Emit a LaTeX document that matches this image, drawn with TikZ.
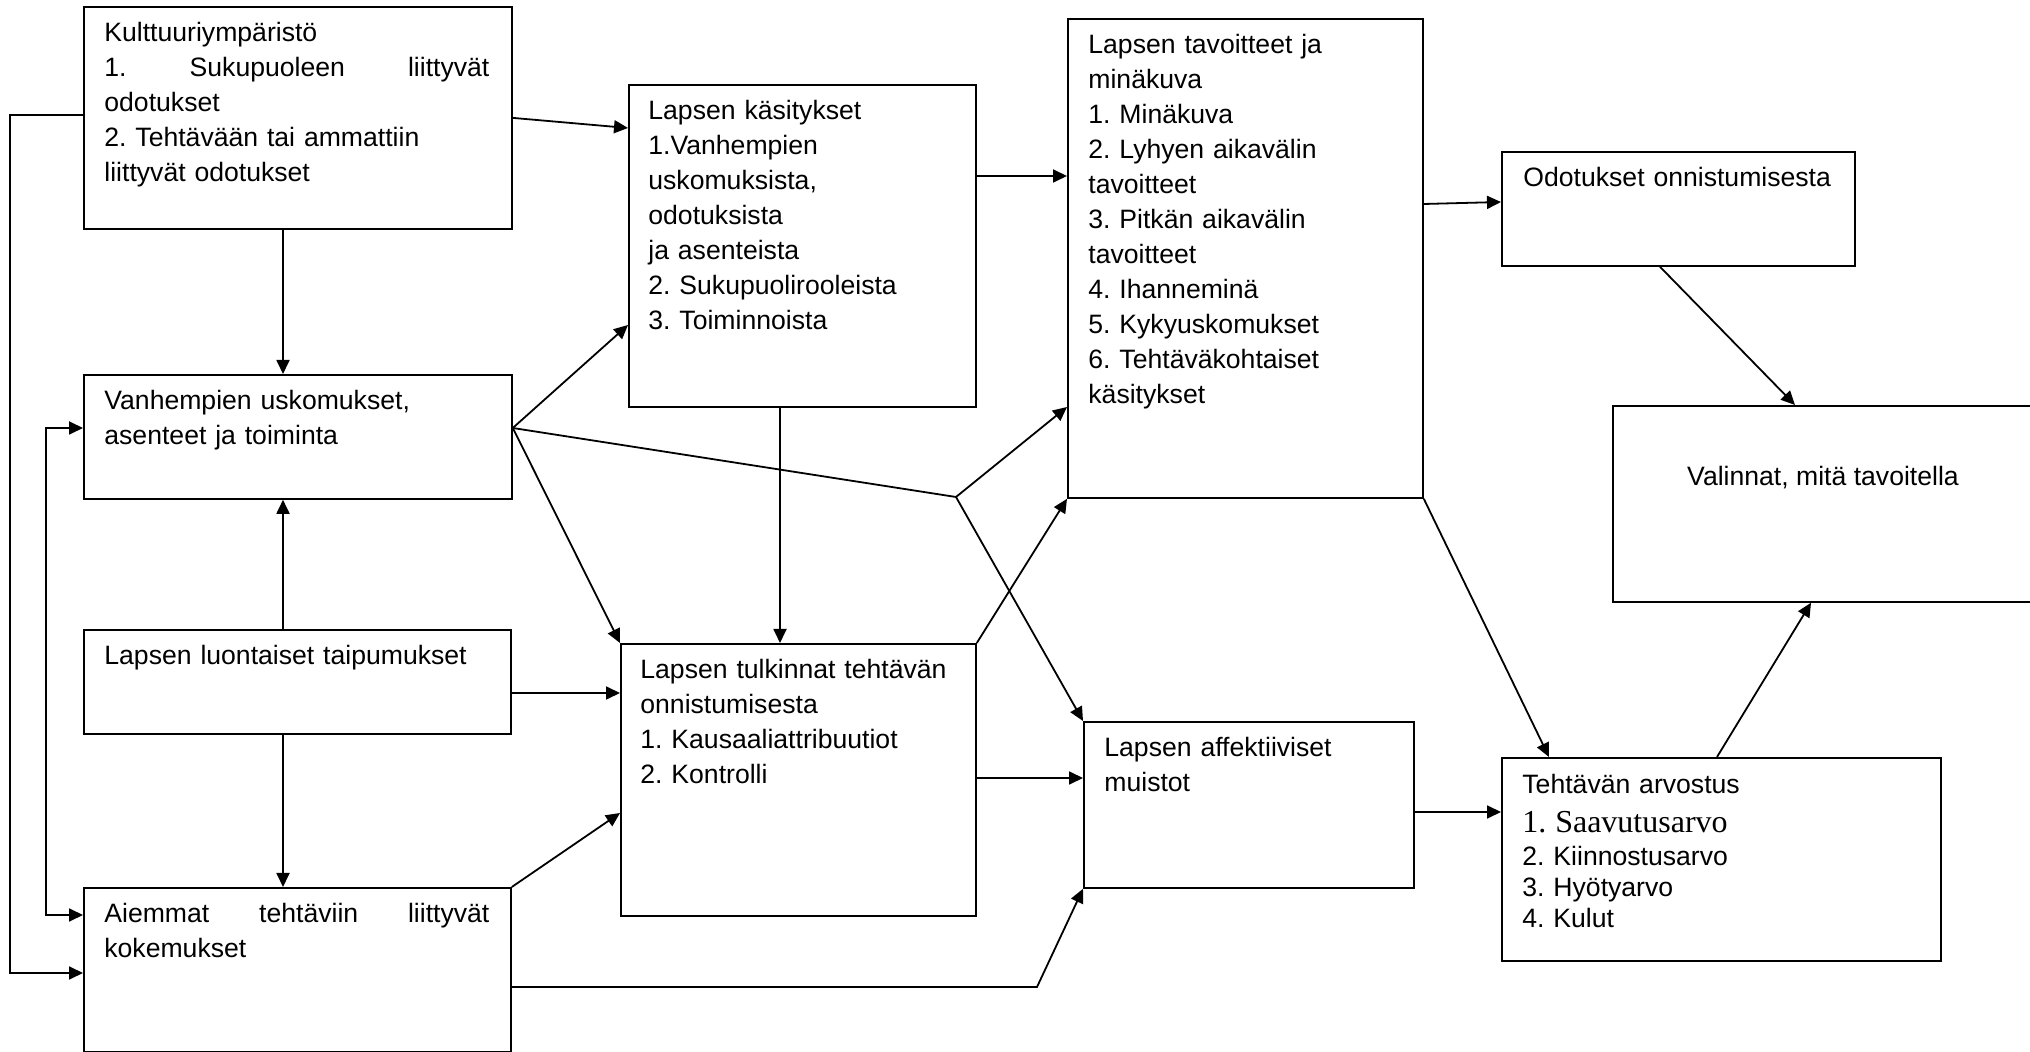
\documentclass[tikz,border=0pt]{standalone}
\usepackage{fontspec}
\setmainfont{Liberation Sans}
\newfontfamily\serifnum{Liberation Serif}
\usetikzlibrary{arrows.meta}
\usetikzlibrary{calc}
\frenchspacing
\tikzset{
    boxnode/.style={
        draw,
        rectangle,
        anchor=north west,
        line width=0.9pt,
        inner sep=0pt
    },
    boxtext/.style={
        anchor=north west,
        inner sep=0pt,
        align=left,
        font=\fontsize{13.3}{17.5}\selectfont
    },
    link/.style={
        draw,
        line width=0.9pt,
        -{Triangle[length=7pt, width=6.5pt]}
    }
}
\newcommand{\firstln}{\rule{0pt}{12.25pt}}
\newcommand{\spreadln}[1]{\leavevmode\hbox to 192.5pt{#1}}

\begin{document}
\begin{tikzpicture}[x=0.5pt, y=-0.5pt]
    \useasboundingbox (0,0) rectangle (2030,1052);
    % Boxes
    \node[boxnode, minimum width=214pt, minimum height=111pt] (kult) at (83,6) {};
    \node[boxnode, minimum width=214pt, minimum height=62pt] (vanh) at (83,374) {};
    \node[boxnode, minimum width=213.5pt, minimum height=52pt] (luon) at (83,629) {};
    \node[boxnode, minimum width=213.5pt, minimum height=82pt] (aiem) at (83,887) {};
    \node[boxnode, minimum width=173.5pt, minimum height=161pt] (kasi) at (628,84) {};
    \node[boxnode, minimum width=177.5pt, minimum height=136pt] (tulk) at (620,643) {};
    \node[boxnode, minimum width=177.5pt, minimum height=239.5pt] (tavo) at (1067,18) {};
    \node[boxnode, minimum width=176.5pt, minimum height=57pt] (odot) at (1501,151) {};
    \node[boxnode, minimum width=211pt, minimum height=98pt] (vali) at (1612,405) {};
    \node[boxnode, minimum width=165pt, minimum height=83pt] (affe) at (1083,721) {};
    \node[boxnode, minimum width=219.5pt, minimum height=101.5pt] (arvo) at (1501,757) {};

    % Texts
    \node[boxtext, text width=195pt] (kultT) at ($(kult.north west)+(21,10.5)$)
        {\firstln Kulttuuriympäristö\\ \spreadln{1.\hfill Sukupuoleen\hfill liittyvät}\\ odotukset\\
         2. Tehtävään tai ammattiin\\ liittyvät odotukset};
    \node[boxtext, text width=195pt] (vanhT) at ($(vanh.north west)+(21,10.5)$)
        {\firstln Vanhempien uskomukset,\\ asenteet ja toiminta};
    \node[boxtext, text width=195pt] (luonT) at ($(luon.north west)+(21,10.5)$)
        {\firstln Lapsen luontaiset taipumukset};
    \node[boxtext, text width=195pt] (aiemT) at ($(aiem.north west)+(21,10.5)$)
        {\firstln\spreadln{Aiemmat\hfill tehtäviin\hfill liittyvät}\\ kokemukset};
    \node[boxtext, text width=160pt] (kasiT) at ($(kasi.north west)+(20,10.5)$)
        {\firstln Lapsen käsitykset\\ 1.Vanhempien\\ uskomuksista,\\ odotuksista\\ ja asenteista\\
         2. Sukupuolirooleista\\ 3. Toiminnoista};
    \node[boxtext, text width=165pt] (tulkT) at ($(tulk.north west)+(20,10.5)$)
        {\firstln Lapsen tulkinnat tehtävän\\ onnistumisesta\\ 1. Kausaaliattribuutiot\\ 2. Kontrolli};
    \node[boxtext, text width=165pt] (tavoT) at ($(tavo.north west)+(21,10.5)$)
        {\firstln Lapsen tavoitteet ja\\ minäkuva\\ 1. Minäkuva\\ 2. Lyhyen aikavälin\\ tavoitteet\\
         3. Pitkän aikavälin\\ tavoitteet\\ 4. Ihanneminä\\ 5. Kykyuskomukset\\
         6. Tehtäväkohtaiset\\ käsitykset};
    \node[boxtext, text width=170pt] (odotT) at ($(odot.north west)+(22,10.5)$)
        {\firstln Odotukset onnistumisesta};
    \node[font=\fontsize{13.3}{17.5}\selectfont, anchor=base, inner sep=0pt] (valiT) at (1823,486)
        {Valinnat, mitä tavoitella};
    \node[boxtext, text width=150pt] (affeT) at ($(affe.north west)+(21,10.5)$)
        {\firstln Lapsen affektiiviset\\ muistot};
    \node[boxtext, text width=200pt, font=\fontsize{13.3}{15.5}\selectfont] (arvoT)
        at ($(arvo.north west)+(21,12)$)
        {\firstln Tehtävän arvostus\\[4pt]
         {\serifnum\fontsize{16}{19}\selectfont 1. Saavutusarvo}\\[1pt]
         2. Kiinnostusarvo\\ 3. Hyötyarvo\\ 4. Kulut};

    % Helper points
    \coordinate (vout) at ($(vanh.north east)+(0,54)$);
    \coordinate (jn) at (956,497);
    \coordinate (bend) at (1037,987);
    \coordinate (outer) at (10,0);
    \coordinate (inner) at (46,0);

    % Connectors
    \draw[link] (kult.east) -- ($(kasi.north west)+(0,44)$);
    \draw[link] ($(kult.south west)+(200,0)$) -- ($(vanh.north west)+(200,0)$);
    \draw[link] ($(luon.north west)+(200,0)$) -- ($(vanh.south west)+(200,0)$);
    \draw[link] ($(luon.south west)+(200,0)$) -- ($(aiem.north west)+(200,0)$);
    \draw[link] (vout) -- ($(kasi.north west)+(0,241)$);
    \draw[link] (vout) -- (tulk.north west);
    \draw[line width=0.9pt] (vout) -- (jn);
    \draw[link] (jn) -- ($(tavo.north west)+(0,389)$);
    \draw[link] (jn) -- (affe.north west);
    \draw[link] ($(kasi.north east)+(0,92)$) -- ($(tavo.north west)+(0,158)$);
    \draw[link] ($(kasi.south west)+(152,0)$) -- ($(tulk.north west)+(160,0)$);
    \draw[link] ($(luon.north east)+(0,64)$) -- ($(tulk.north west)+(0,50)$);
    \draw[link] (aiem.north east) -- ($(tulk.north west)+(0,170)$);
    \draw[link] (tulk.north east) -- (tavo.south west);
    \draw[link] ($(tulk.north east)+(0,135)$) -- ($(affe.north west)+(0,57)$);
    \draw[link] ($(aiem.north east)+(0,100)$) -- (bend) -- (affe.south west);
    \draw[link] ($(tavo.north east)+(0,186)$) -- ($(odot.north west)+(0,51)$);
    \draw[link] ($(odot.south west)+(159,0)$) -- ($(vali.north west)+(183,0)$);
    \draw[link] (tavo.south east) -- ($(arvo.north west)+(48,0)$);
    \draw[link] ($(affe.north east)+(0,91)$) -- ($(arvo.north west)+(0,55)$);
    \draw[link] ($(arvo.north west)+(216,0)$) -- ($(vali.south west)+(199,0)$);

    % Left side rails
    \coordinate (kultL) at ($(kult.north west)+(0,109)$);
    \coordinate (aiemL) at ($(aiem.north west)+(0,86)$);
    \draw[link] (kultL) -- (kultL -| outer) |- (aiemL);
    \coordinate (vanhL) at ($(vanh.north west)+(0,54)$);
    \coordinate (aiemL2) at ($(aiem.north west)+(0,28)$);
    \draw[link, {Triangle[length=7pt, width=6.5pt]}-{Triangle[length=7pt, width=6.5pt]}]
        (vanhL) -- (vanhL -| inner) |- (aiemL2);
\end{tikzpicture}
\end{document}
